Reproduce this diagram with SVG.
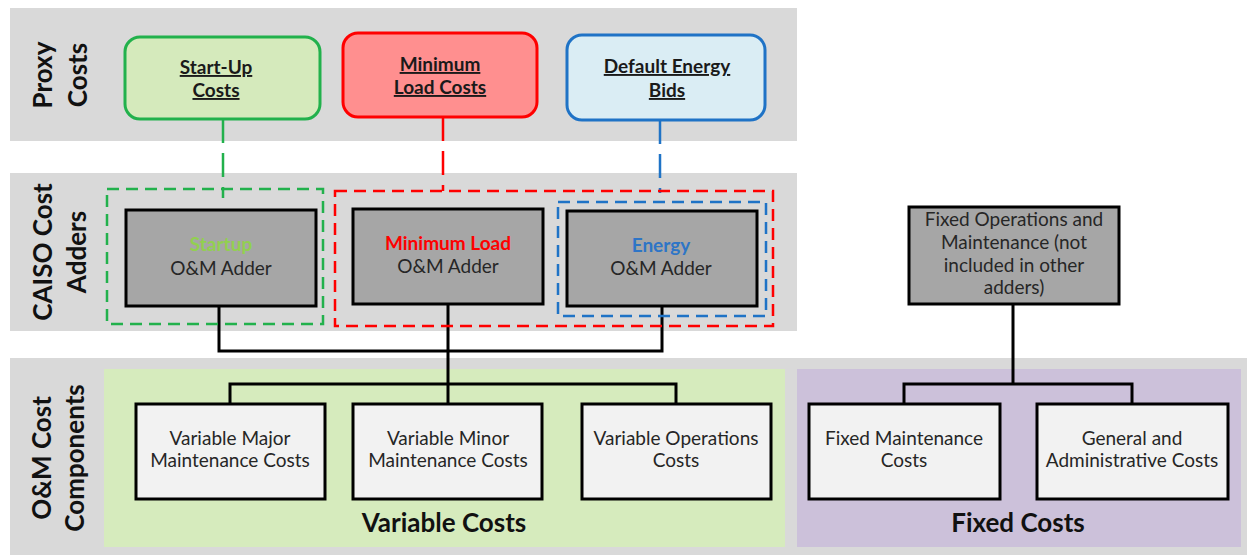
<svg xmlns="http://www.w3.org/2000/svg" width="1247" height="555" viewBox="0 0 1247 555">
<style>
text{font-family:Lato,"Liberation Sans",sans-serif;fill:#262626;text-anchor:middle}
.band{fill:#d9d9d9}
.lbl{font-size:26px;font-weight:bold;fill:#111}
.hd{font-size:19px;font-weight:bold;text-decoration:underline;fill:#1a1a1a}
.t{font-size:19px}
.tb{font-size:19px;font-weight:bold}
.big{font-size:26px;font-weight:bold;fill:#111}
.adder{fill:#a6a6a6;stroke:#000;stroke-width:3}
.comp{fill:#f2f2f2;stroke:#000;stroke-width:3}
.grp{fill:none;stroke-width:2.5;stroke-dasharray:12 7}
.dl{fill:none;stroke-width:2.5;stroke-dasharray:24 10}
.sl{fill:none;stroke:#000;stroke-width:3}
</style>
<g id="bands">
<rect class="band" x="10" y="8" width="787" height="133"/>
<rect class="band" x="10" y="173" width="787" height="158"/>
<rect class="band" x="10" y="358" width="1237" height="197"/>
<rect x="104" y="369" width="681" height="178" fill="#d6ebbd"/>
<rect x="797" y="369" width="444" height="178" fill="#ccc1da"/>
</g>
<g id="row-labels">
<text class="lbl" transform="translate(52,75) rotate(-90)">Proxy</text>
<text class="lbl" transform="translate(87,75) rotate(-90)">Costs</text>
<text class="lbl" transform="translate(52,252) rotate(-90)">CAISO Cost</text>
<text class="lbl" transform="translate(86,252) rotate(-90)">Adders</text>
<text class="lbl" transform="translate(51,458) rotate(-90)">O&amp;M Cost</text>
<text class="lbl" transform="translate(84,458) rotate(-90)">Components</text>
</g>
<g id="connectors">
<path class="dl" stroke="#22b14c" d="M223 119V198"/>
<path class="dl" stroke="#ff0000" d="M443 117V191"/>
<path class="dl" stroke="#1f73c6" d="M660 120V193"/>
<path class="sl" d="M219 306V351H662V306M448 304V384M230 404V384H676V404M448 384V404M1013 304V384M904 404V384H1132V404"/>
</g>
<g id="startup-group"><rect class="grp" stroke="#22b14c" x="107" y="189" width="216" height="135"/></g>
<g id="minload-group"><rect class="grp" stroke="#ff0000" x="335" y="191" width="438" height="135"/></g>
<g id="energy-group"><rect class="grp" stroke="#1f73c6" x="558" y="202" width="208" height="114"/></g>
<g id="startup-costs">
<rect x="125" y="37" width="195" height="82" rx="15" fill="#d5eabc" stroke="#22b14c" stroke-width="3"/>
<text class="hd" x="216" y="74">Start-Up</text>
<text class="hd" x="216" y="97">Costs</text>
</g>
<g id="min-load-costs">
<rect x="343" y="33" width="194" height="84" rx="15" fill="#ff8f8f" stroke="#ff0000" stroke-width="3"/>
<text class="hd" x="440" y="71">Minimum</text>
<text class="hd" x="440" y="94">Load Costs</text>
</g>
<g id="default-energy-bids">
<rect x="567" y="35" width="198" height="85" rx="15" fill="#daedf4" stroke="#1f73c6" stroke-width="3"/>
<text class="hd" x="667" y="73">Default Energy</text>
<text class="hd" x="667" y="97">Bids</text>
</g>
<g id="startup-adder">
<rect class="adder" x="126" y="210" width="190" height="96"/>
<text class="tb" x="221" y="251" style="fill:#92d050">Startup</text>
<text class="t" x="221" y="275">O&amp;M Adder</text>
</g>
<g id="minload-adder">
<rect class="adder" x="353" y="209" width="190" height="95"/>
<text class="tb" x="448" y="250" style="fill:#ff0000">Minimum Load</text>
<text class="t" x="448" y="273">O&amp;M Adder</text>
</g>
<g id="energy-adder">
<rect class="adder" x="567" y="211" width="190" height="95"/>
<text class="tb" x="661" y="252" style="fill:#2e75c6">Energy</text>
<text class="t" x="661" y="275">O&amp;M Adder</text>
</g>
<g id="fixed-om">
<rect class="adder" x="909" y="207" width="210" height="97"/>
<text class="t" x="1014" y="226">Fixed Operations and</text>
<text class="t" x="1014" y="249">Maintenance (not</text>
<text class="t" x="1014" y="272">included in other</text>
<text class="t" x="1014" y="294">adders)</text>
</g>
<g id="var-major">
<rect class="comp" x="136" y="404" width="189" height="95"/>
<text class="t" x="230" y="445">Variable Major</text>
<text class="t" x="230" y="467">Maintenance Costs</text>
</g>
<g id="var-minor">
<rect class="comp" x="353" y="404" width="189" height="95"/>
<text class="t" x="448" y="445">Variable Minor</text>
<text class="t" x="448" y="467">Maintenance Costs</text>
</g>
<g id="var-ops">
<rect class="comp" x="582" y="404" width="189" height="95"/>
<text class="t" x="676" y="445">Variable Operations</text>
<text class="t" x="676" y="467">Costs</text>
</g>
<g id="fixed-maint">
<rect class="comp" x="809" y="404" width="191" height="95"/>
<text class="t" x="904" y="445">Fixed Maintenance</text>
<text class="t" x="904" y="467">Costs</text>
</g>
<g id="gen-admin">
<rect class="comp" x="1037" y="404" width="191" height="95"/>
<text class="t" x="1132" y="445">General and</text>
<text class="t" x="1132" y="467">Administrative Costs</text>
</g>
<g id="region-labels">
<text class="big" x="444" y="532">Variable Costs</text>
<text class="big" x="1018" y="532">Fixed Costs</text>
</g>
</svg>
